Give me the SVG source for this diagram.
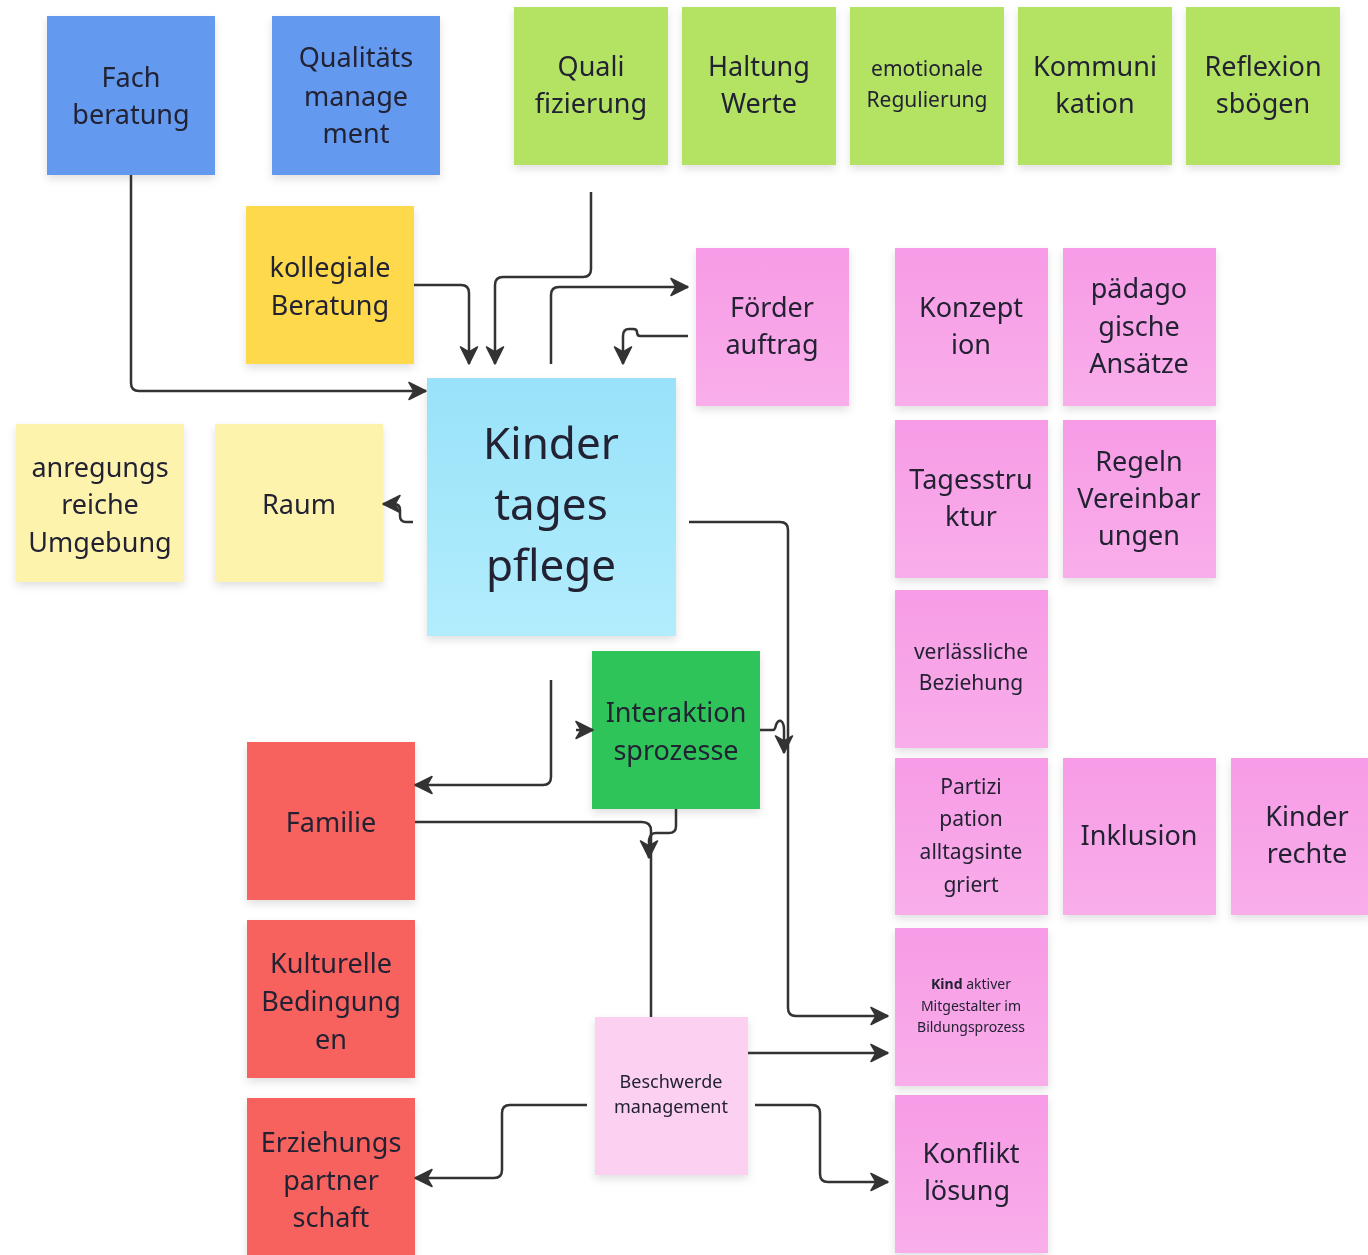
<svg xmlns="http://www.w3.org/2000/svg" width="1368" height="1255" viewBox="0 0 1368 1255">
<style>
text{font-family:"Noto Sans","Open Sans","DejaVu Sans",sans-serif;fill:#222233;text-anchor:middle;}
.t26{font-size:27px}
.t22{font-size:21px}
.t18{font-size:18px}
.t14{font-size:14px}
.t44{font-size:44px}
.blue{fill:#6399ee}
.lg{fill:#b4e263}
.yel{fill:#fdd94b}
.pink{fill:url(#gp)}
.lb{fill:url(#gb)}
.ly{fill:#fef3ad}
.red{fill:#f7625f}
.grn{fill:#2ec45a}
.lp{fill:#fcd0f0}
.note{filter:url(#sh)}
.c{fill:none;stroke:#333;stroke-width:2.5;stroke-linejoin:round}
</style>
<defs>
<linearGradient id="gp" x1="0" y1="0" x2="0" y2="1"><stop offset="0" stop-color="#f79be6"/><stop offset="1" stop-color="#f9aeea"/></linearGradient>
<linearGradient id="gb" x1="0" y1="0" x2="0" y2="1"><stop offset="0" stop-color="#99e2f9"/><stop offset="1" stop-color="#b2edfd"/></linearGradient>
<filter id="sh" x="-10%" y="-10%" width="120%" height="130%"><feDropShadow dx="0" dy="4" stdDeviation="4" flood-color="#000" flood-opacity="0.12"/></filter>
<marker id="ah" viewBox="0 0 20 20" refX="18" refY="10" markerWidth="20" markerHeight="20" markerUnits="userSpaceOnUse" orient="auto">
<path d="M1 1.5 L18 10 L1 18.5 L6 10 Z" fill="#333" stroke="#333" stroke-width="1.5" stroke-linejoin="round"/>
</marker>
</defs>

<g id="fachberatung" class="note"><rect class="blue" x="47" y="16" width="168" height="159"/><text class="t26" x="131" y="87">Fach</text><text class="t26" x="131" y="124">beratung</text></g>
<g id="qualitaetsmanagement" class="note"><rect class="blue" x="272" y="16" width="168" height="159"/><text class="t26" x="356" y="67">Qualitäts</text><text class="t26" x="356" y="106">manage</text><text class="t26" x="356" y="143">ment</text></g>

<g id="qualifizierung" class="note"><rect class="lg" x="514" y="7" width="154" height="158"/><text class="t26" x="591" y="76">Quali</text><text class="t26" x="591" y="113">fizierung</text></g>
<g id="haltung" class="note"><rect class="lg" x="682" y="7" width="154" height="158"/><text class="t26" x="759" y="76">Haltung</text><text class="t26" x="759" y="113">Werte</text></g>
<g id="emotionale" class="note"><rect class="lg" x="850" y="7" width="154" height="158"/><text class="t22" x="927" y="76">emotionale</text><text class="t22" x="927" y="107">Regulierung</text></g>
<g id="kommunikation" class="note"><rect class="lg" x="1018" y="7" width="154" height="158"/><text class="t26" x="1095" y="76">Kommuni</text><text class="t26" x="1095" y="113">kation</text></g>
<g id="reflexion" class="note"><rect class="lg" x="1186" y="7" width="154" height="158"/><text class="t26" x="1263" y="76">Reflexion</text><text class="t26" x="1263" y="113">sbögen</text></g>

<g id="kollegiale" class="note"><rect class="yel" x="246" y="206" width="168" height="158"/><text class="t26" x="330" y="277">kollegiale</text><text class="t26" x="330" y="315">Beratung</text></g>

<g id="foerderauftrag" class="note"><rect class="pink" x="696" y="248" width="153" height="158"/><text class="t26" x="772" y="317">Förder</text><text class="t26" x="772" y="354">auftrag</text></g>
<g id="konzeption" class="note"><rect class="pink" x="895" y="248" width="153" height="158"/><text class="t26" x="971" y="317">Konzept</text><text class="t26" x="971" y="354">ion</text></g>
<g id="paedagogische" class="note"><rect class="pink" x="1063" y="248" width="153" height="158"/><text class="t26" x="1139" y="298">pädago</text><text class="t26" x="1139" y="336">gische</text><text class="t26" x="1139" y="373">Ansätze</text></g>
<g id="tagesstruktur" class="note"><rect class="pink" x="895" y="420" width="153" height="158"/><text class="t26" x="971" y="489">Tagesstru</text><text class="t26" x="971" y="526">ktur</text></g>
<g id="regeln" class="note"><rect class="pink" x="1063" y="420" width="153" height="158"/><text class="t26" x="1139" y="471">Regeln</text><text class="t26" x="1139" y="508">Vereinbar</text><text class="t26" x="1139" y="545">ungen</text></g>
<g id="beziehung" class="note"><rect class="pink" x="895" y="590" width="153" height="158"/><text class="t22" x="971" y="659">verlässliche</text><text class="t22" x="971" y="690">Beziehung</text></g>
<g id="partizipation" class="note"><rect class="pink" x="895" y="758" width="153" height="157"/><text class="t22" x="971" y="794">Partizi</text><text class="t22" x="971" y="826">pation</text><text class="t22" x="971" y="859">alltagsinte</text><text class="t22" x="971" y="892">griert</text></g>
<g id="inklusion" class="note"><rect class="pink" x="1063" y="758" width="153" height="157"/><text class="t26" x="1139" y="845">Inklusion</text></g>
<g id="kinderrechte" class="note"><rect class="pink" x="1231" y="758" width="140" height="157"/><text class="t26" x="1307" y="826">Kinder</text><text class="t26" x="1307" y="863">rechte</text></g>
<g id="kindaktiv" class="note"><rect class="pink" x="895" y="928" width="153" height="158"/><text class="t14" x="971" y="989"><tspan font-weight="bold">Kind</tspan> aktiver</text><text class="t14" x="971" y="1011">Mitgestalter im</text><text class="t14" x="971" y="1032">Bildungsprozess</text></g>
<g id="konfliktloesung" class="note"><rect class="pink" x="895" y="1095" width="153" height="158"/><text class="t26" x="971" y="1163">Konflikt</text><text class="t26" x="967" y="1200">lösung</text></g>

<g id="kindertagespflege" class="note"><rect class="lb" x="427" y="378" width="249" height="258"/><text class="t44" x="551" y="459">Kinder</text><text class="t44" x="551" y="520">tages</text><text class="t44" x="551" y="581">pflege</text></g>

<g id="anregungsreiche" class="note"><rect class="ly" x="16" y="424" width="168" height="158"/><text class="t26" x="100" y="477">anregungs</text><text class="t26" x="100" y="514">reiche</text><text class="t26" x="100" y="552">Umgebung</text></g>
<g id="raum" class="note"><rect class="ly" x="215" y="424" width="168" height="158"/><text class="t26" x="299" y="514">Raum</text></g>

<g id="interaktion" class="note"><rect class="grn" x="592" y="651" width="168" height="158"/><text class="t26" x="676" y="722">Interaktion</text><text class="t26" x="676" y="760">sprozesse</text></g>

<g id="familie" class="note"><rect class="red" x="247" y="742" width="168" height="158"/><text class="t26" x="331" y="832">Familie</text></g>
<g id="kulturelle" class="note"><rect class="red" x="247" y="920" width="168" height="158"/><text class="t26" x="331" y="973">Kulturelle</text><text class="t26" x="331" y="1011">Bedingung</text><text class="t26" x="331" y="1049">en</text></g>
<g id="erziehungspartnerschaft" class="note"><rect class="red" x="247" y="1098" width="168" height="160"/><text class="t26" x="331" y="1152">Erziehungs</text><text class="t26" x="331" y="1190">partner</text><text class="t26" x="331" y="1227">schaft</text></g>

<g id="beschwerde" class="note"><rect class="lp" x="595" y="1017" width="153" height="158"/><text class="t18" x="671" y="1088">Beschwerde</text><text class="t18" x="671" y="1113">management</text></g>

<g id="connectors">
<path class="c" marker-end="url(#ah)" d="M131 175 V383 Q131 391 139 391 H426"/>
<path class="c" marker-end="url(#ah)" d="M414 285 H461 Q469 285 469 293 V364"/>
<path class="c" marker-end="url(#ah)" d="M591 192 V269 Q591 277 583 277 H503 Q495 277 495 285 V364"/>
<path class="c" marker-end="url(#ah)" d="M551 364 V295 Q551 287 559 287 H688"/>
<path class="c" marker-end="url(#ah)" d="M688 336 H640 Q637 336 637 332 Q637 329 633 329 H629 Q623 329 623 336 V364"/>
<path class="c" marker-end="url(#ah)" d="M413 522 H406 Q400 522 400 516 V510 Q400 504 394 504 H383"/>
<path class="c" marker-end="url(#ah)" d="M689 522 H780 Q788 522 788 530 V1008 Q788 1016 796 1016 H888"/>
<path class="c" marker-end="url(#ah)" d="M760 730 H773 Q775 730 776 725 Q778 720 781 721 Q784 723 784 730 V753"/>
<path class="c" marker-end="url(#ah)" d="M551 680 V777 Q551 785 543 785 H415"/>
<path class="c" marker-end="url(#ah)" d="M576 730 H593"/>
<path class="c" d="M415 822 H642 Q651 822 651 831 V1017"/>
<path class="c" marker-end="url(#ah)" d="M676 809 V826 Q676 833 669 833 H656 Q650 833 649 840 V858"/>
<path class="c" marker-end="url(#ah)" d="M587 1105 H510 Q502 1105 502 1113 V1170 Q502 1178 494 1178 H415"/>
<path class="c" marker-end="url(#ah)" d="M748 1053 H888"/>
<path class="c" marker-end="url(#ah)" d="M755 1105 H812 Q820 1105 820 1113 V1174 Q820 1182 828 1182 H888"/>
</g>
</svg>
